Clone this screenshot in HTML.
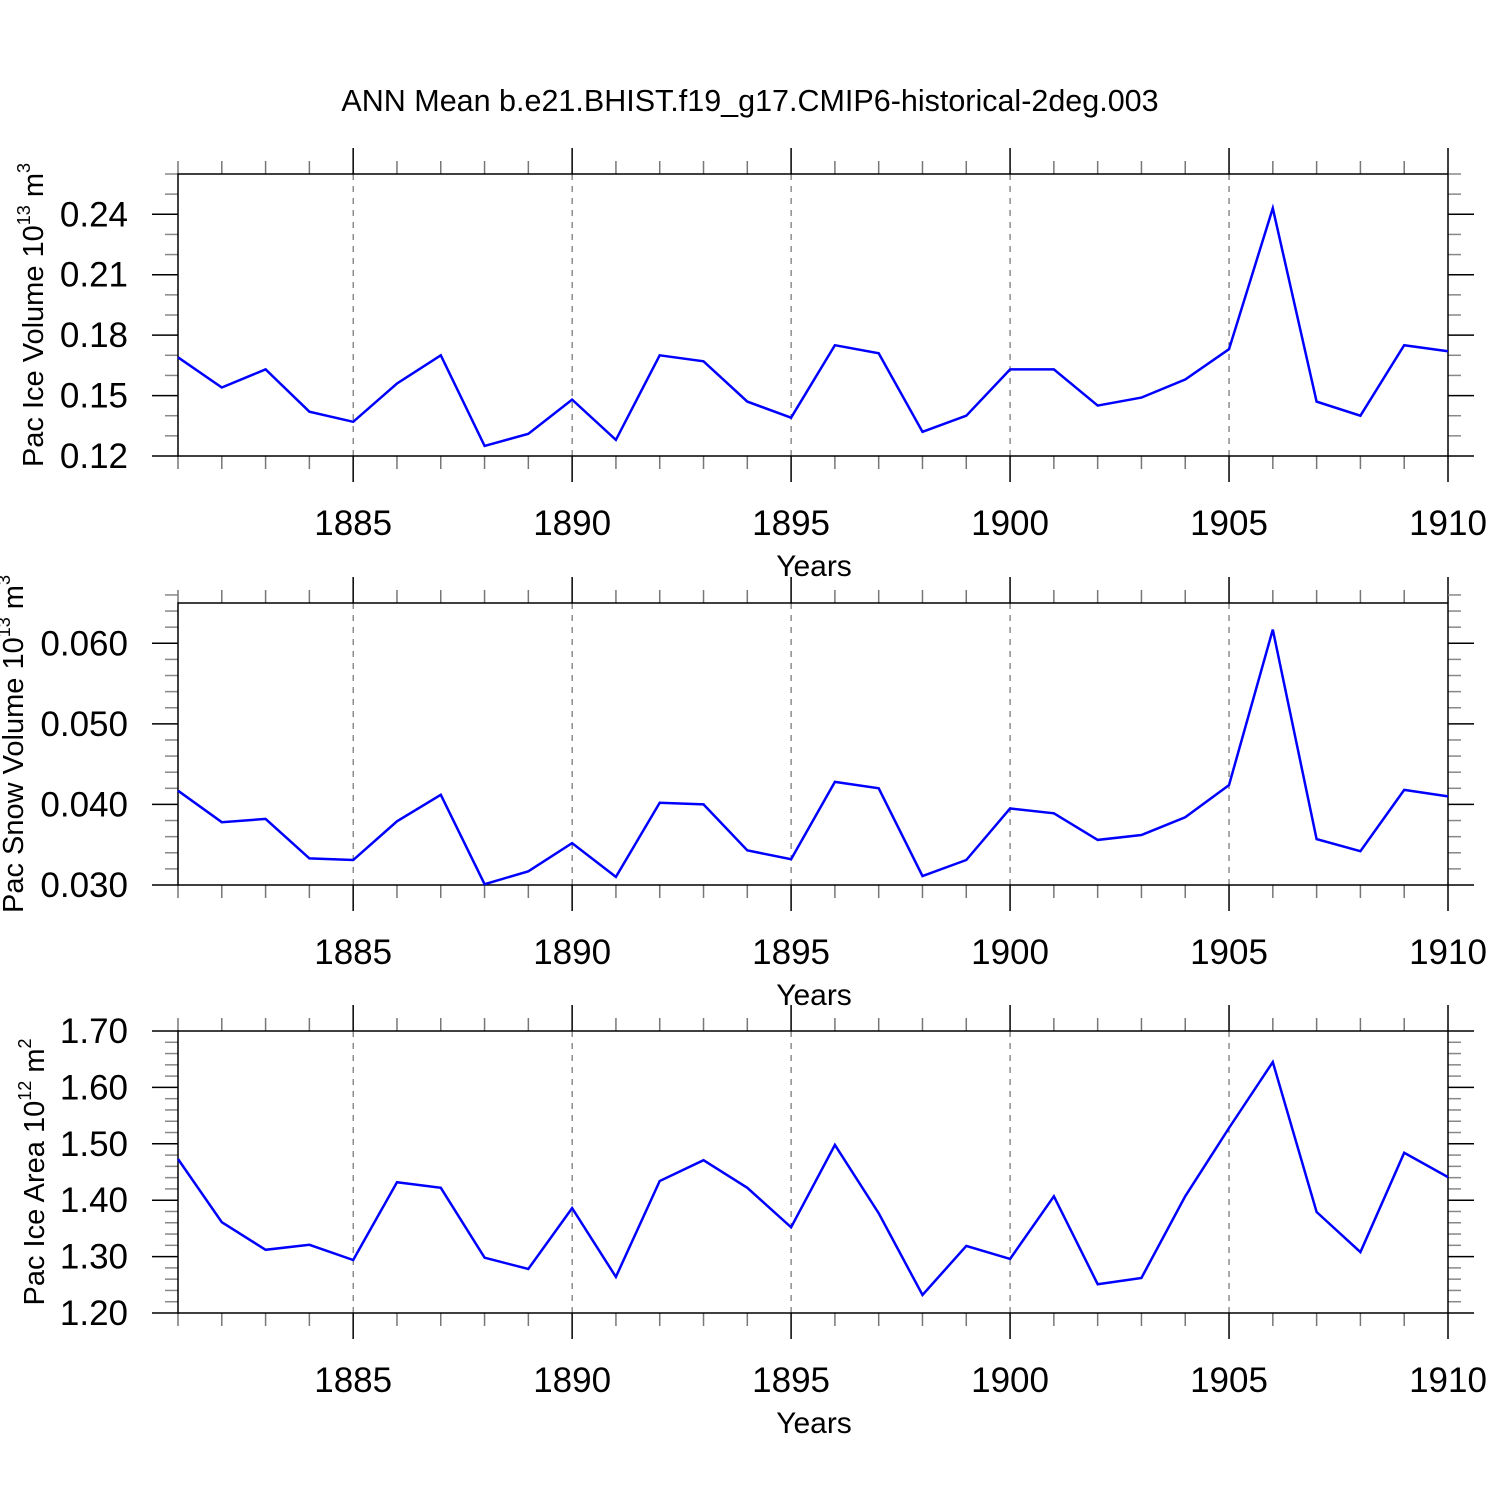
<!DOCTYPE html>
<html><head><meta charset="utf-8"><style>
html,body{margin:0;padding:0;background:#fff;}
svg{display:block;font-family:"Liberation Sans",Arial,sans-serif;}
</style></head><body>
<svg id="chart" width="1500" height="1500" xmlns="http://www.w3.org/2000/svg">
<rect width="1500" height="1500" fill="#fff"/>
<text x="750" y="111" font-size="30.5" text-anchor="middle">ANN Mean b.e21.BHIST.f19_g17.CMIP6-historical-2deg.003</text>
</svg>
<script>
const years = [1881,1882,1883,1884,1885,1886,1887,1888,1889,1890,1891,1892,1893,1894,1895,1896,1897,1898,1899,1900,1901,1902,1903,1904,1905,1906,1907,1908,1909,1910];
const iceVolume = [0.169,0.154,0.163,0.142,0.137,0.156,0.170,0.125,0.131,0.148,0.128,0.170,0.167,0.147,0.139,0.175,0.171,0.132,0.140,0.163,0.163,0.145,0.149,0.158,0.173,0.243,0.147,0.140,0.175,0.172];
const snowVolume = [0.0417,0.0378,0.0382,0.0333,0.0331,0.0379,0.0412,0.0301,0.0317,0.0352,0.0310,0.0402,0.0400,0.0343,0.0332,0.0428,0.0420,0.0311,0.0331,0.0395,0.0389,0.0356,0.0362,0.0384,0.0424,0.0617,0.0357,0.0342,0.0418,0.0410];
const iceArea = [1.473,1.361,1.312,1.321,1.294,1.432,1.422,1.298,1.278,1.386,1.264,1.434,1.471,1.422,1.352,1.498,1.377,1.232,1.319,1.296,1.407,1.251,1.262,1.407,1.528,1.645,1.379,1.308,1.484,1.441];
const xTickLabels = [1885,1890,1895,1900,1905,1910];
const iceVolTicks = ["0.12","0.15","0.18","0.21","0.24"];
const snowTicks = ["0.030","0.040","0.050","0.060"];
const areaTicks = ["1.20","1.30","1.40","1.50","1.60","1.70"];

const NS="http://www.w3.org/2000/svg";
const svg=document.getElementById('chart');
function mk(tag,attrs,parent){const e=document.createElementNS(NS,tag);for(const k in attrs)e.setAttribute(k,attrs[k]);(parent||svg).appendChild(e);return e;}
const X0=178,X1=1448,YR0=1881,YR1=1910;
function xs(yr){return X0+(yr-YR0)*(X1-X0)/(YR1-YR0);}

const panels=[
 {name:'ice-volume',top:174,bot:456,min:0.12,max:0.26,minor:0.01,ticks:iceVolTicks,data:iceVolume,title:'Pac Ice Volume 10',exp:'13',unit:' m',uexp:'3',tx:43},
 {name:'snow-volume',top:603,bot:885,min:0.030,max:0.065,minor:0.002,ticks:snowTicks,data:snowVolume,title:'Pac Snow Volume 10',exp:'13',unit:' m',uexp:'3',tx:23},
 {name:'ice-area',top:1031,bot:1313,min:1.20,max:1.70,minor:0.02,ticks:areaTicks,data:iceArea,title:'Pac Ice Area 10',exp:'12',unit:' m',uexp:'2',tx:44}
];
panels.forEach(p=>{
 const g=mk('g',{});
 
 
 const ys=v=>p.bot-(v-p.min)/(p.max-p.min)*(p.bot-p.top);
 xTickLabels.forEach(yr=>{
  if(yr===YR1) return;
  const l=mk('line',{x1:xs(yr),x2:xs(yr),y1:p.top,y2:p.bot,stroke:'#555','stroke-width':1,'stroke-dasharray':'6,6'},g);
  
  
 });
 years.forEach(yr=>{
  const major=(yr%5===0);const len=major?26:13;const x=xs(yr);
  mk('line',{x1:x,x2:x,y1:p.top-len,y2:p.top,stroke:major?'#000':'#777','stroke-width':1.5},g);
  mk('line',{x1:x,x2:x,y1:p.bot,y2:p.bot+len,stroke:major?'#000':'#777','stroke-width':1.5},g);
 });
 const n=Math.round((p.max-p.min)/p.minor);
 const majVals=p.ticks.map(Number);
 for(let i=0;i<=n;i++){
  const v=p.min+i*p.minor;const y=ys(v);
  const major=majVals.some(m=>Math.abs(m-v)<p.minor/10);
  const len=major?26:13;
  mk('line',{x1:X0-len,x2:X0,y1:y,y2:y,stroke:major?'#000':'#888','stroke-width':1.5},g);
  mk('line',{x1:X1,x2:X1+len,y1:y,y2:y,stroke:major?'#000':'#888','stroke-width':1.5},g);
 }
 mk('rect',{x:X0,y:p.top,width:X1-X0,height:p.bot-p.top,fill:'none',stroke:'#000','stroke-width':1.5},g);
 p.ticks.forEach(t=>{
  const tx=mk('text',{x:128,y:ys(Number(t))+12,'font-size':35,'text-anchor':'end'},g);
  tx.textContent=t;
  
  
 });
 xTickLabels.forEach(yr=>{
  const tx=mk('text',{x:xs(yr),y:p.bot+79,'font-size':35,'text-anchor':'middle'},g);
  tx.textContent=yr;
  
  
 });
 const xt=mk('text',{x:814,y:p.bot+120,'font-size':30,'text-anchor':'middle'},g);
 xt.textContent='Years';
 
 
 const cy=(p.top+p.bot)/2;
 const yt=mk('text',{x:0,y:0,'font-size':29,'text-anchor':'middle',transform:`translate(${p.tx},${cy}) rotate(-90)`},g);
 
 
 const s1=mk('tspan',{},yt);s1.textContent=p.title;
 const s2=mk('tspan',{'font-size':18,dy:-13},yt);s2.textContent=p.exp;
 const s3=mk('tspan',{dy:13},yt);s3.textContent=p.unit;
 const s4=mk('tspan',{'font-size':18,dy:-13},yt);s4.textContent=p.uexp;
 const pts=p.data.map((v,i)=>xs(years[i]).toFixed(1)+','+ys(v).toFixed(1)).join(' ');
 const pl=mk('polyline',{points:pts,fill:'none',stroke:'#0000ff','stroke-width':2.5,'stroke-linejoin':'miter'},g);
 
 
});
</script>
</body></html>
